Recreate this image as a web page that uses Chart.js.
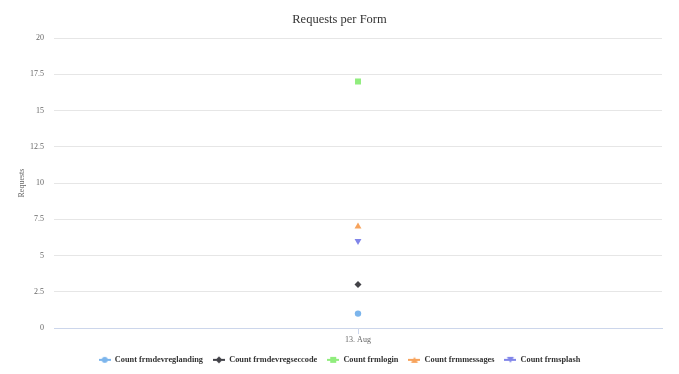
<!DOCTYPE html>
<html>
<head>
<meta charset="utf-8">
<script src="https://cdn.jsdelivr.net/npm/chart.js@4"></script>
<style>
  html, body { margin: 0; padding: 0; background: #fff; }
  #wrap { width: 679px; height: 374px; }
</style>
</head>
<body>
<div id="wrap"><canvas id="chart" width="679" height="374"></canvas></div>
<script>
// data
const categories = ['13. Aug'];
const seriesNames = ['Count frmdevreglanding', 'Count frmdevregseccode', 'Count frmlogin', 'Count frmmessages', 'Count frmsplash'];
const devreglanding = [1];
const devregseccode = [3];
const login = [17];
const messages = [7];
const splash = [6];
const yTicks = [0, 2.5, 5, 7.5, 10, 12.5, 15, 17.5, 20];

const colors = ['#7cb5ec', '#434348', '#90ed7d', '#f7a35c', '#8085e9'];
const styles = ['circle', 'rectRot', 'rect', 'triangle', 'triangle'];
const rotations = [0, 0, 0, 0, 180];
const radii = [3.2, 3.5, 4.2, 4, 4];
const FONT = '"Liberation Serif", "Times New Roman", serif';

// small legend icon: line with the marker on it
function makeIcon(color, style, rot) {
  const c = document.createElement('canvas');
  c.width = 12; c.height = 10;
  const g = c.getContext('2d');
  g.strokeStyle = color; g.lineWidth = 2;
  g.beginPath(); g.moveTo(0, 5); g.lineTo(12, 5); g.stroke();
  g.fillStyle = color;
  g.beginPath();
  if (style === 'circle') g.arc(6, 5, 3, 0, Math.PI * 2);
  else if (style === 'rectRot') { g.moveTo(6, 1.5); g.lineTo(9.5, 5); g.lineTo(6, 8.5); g.lineTo(2.5, 5); }
  else if (style === 'rect') g.rect(3, 2, 6, 6);
  else if (rot) { g.moveTo(2.5, 2); g.lineTo(9.5, 2); g.lineTo(6, 8); }
  else { g.moveTo(6, 2); g.lineTo(9.5, 8); g.lineTo(2.5, 8); }
  g.closePath(); g.fill();
  return c;
}

const values = [devreglanding, devregseccode, login, messages, splash];
const datasets = values.map((v, i) => ({
  label: seriesNames[i],
  data: v,
  borderColor: colors[i],
  backgroundColor: colors[i],
  pointStyle: styles[i],
  pointRotation: rotations[i],
  pointRadius: radii[i],
  pointBorderWidth: 0,
  pointHoverRadius: radii[i],
  showLine: false,
  legendIcon: makeIcon(colors[i], styles[i], rotations[i])
}));

new Chart(document.getElementById('chart'), {
  type: 'line',
  data: { labels: categories, datasets: datasets },
  options: {
    responsive: false,
    animation: false,
    layout: { padding: { left: 17, right: 17, top: 6, bottom: 0 } },
    plugins: {
      title: {
        display: true,
        text: 'Requests per Form',
        color: '#333333',
        font: { family: FONT, size: 12.5, weight: 'normal' },
        padding: { top: 6, bottom: 11 }
      },
      legend: {
        position: 'bottom',
        labels: {
          usePointStyle: true,
          pointStyleWidth: 12,
          generateLabels: chart => chart.data.datasets.map((d, i) => ({
            text: d.label,
            pointStyle: d.legendIcon,
            fillStyle: d.backgroundColor,
            strokeStyle: d.borderColor,
            fontColor: '#333333',
            datasetIndex: i,
            hidden: false
          })),
          color: '#333333',
          font: { family: FONT, size: 8.3, weight: 'bold' },
          padding: 10,
          boxHeight: 10
        }
      },
      tooltip: { enabled: false }
    },
    scales: {
      x: {
        offset: true,
        grid: {
          offset: false,
          drawOnChartArea: false,
          drawTicks: true,
          tickLength: 6,
          color: '#ccd6eb'
        },
        border: { color: '#ccd6eb' },
        ticks: {
          color: '#666666',
          font: { family: FONT, size: 8 },
          padding: 1
        }
      },
      y: {
        min: 0,
        max: 20,
        afterBuildTicks: axis => { axis.ticks = yTicks.map(v => ({ value: v })); },
        afterFit: axis => { axis.width = 37; },
        grid: { color: '#e6e6e6', drawTicks: false },
        border: { display: false },
        ticks: {
          color: '#666666',
          font: { family: FONT, size: 8 },
          padding: 10
        },
        title: {
          display: true,
          text: 'Requests',
          color: '#666666',
          font: { family: FONT, size: 8 },
          padding: 0
        }
      }
    }
  }
});
</script>
</body>
</html>
